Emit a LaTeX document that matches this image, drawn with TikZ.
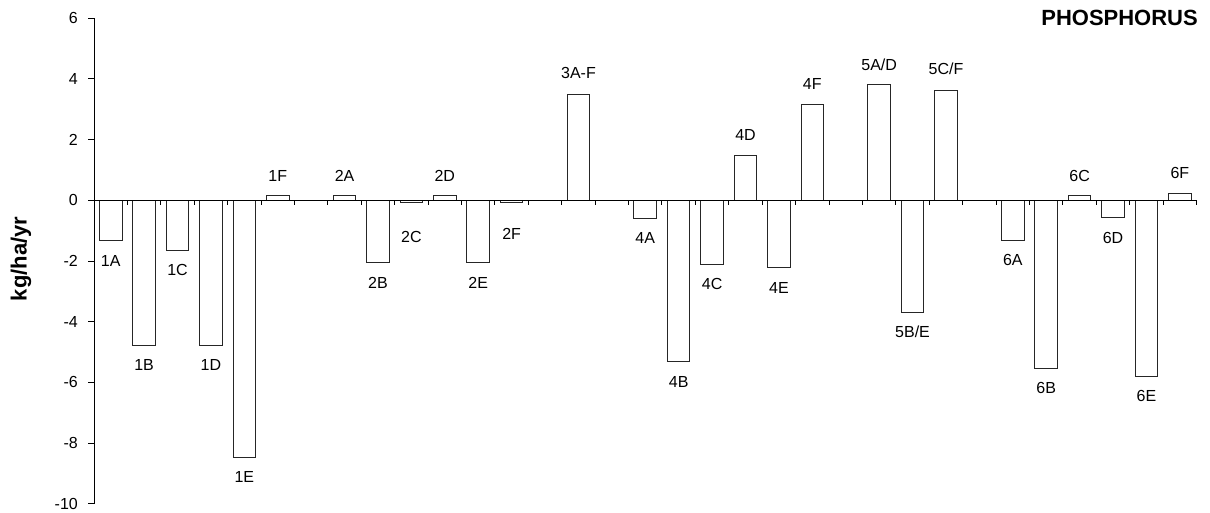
\documentclass[tikz,border=0pt]{standalone}
\usepackage{fontspec}
\setmainfont{Liberation Sans}
\tikzset{
  barbox/.style={draw=black!85, fill=white, line width=1pt},
  axisline/.style={draw=black, line width=1pt},
  lab/.style={font=\fontsize{16}{19}\selectfont, inner sep=0pt, anchor=center},
  ticklab/.style={font=\fontsize{16}{19}\selectfont, inner sep=0pt, anchor=east},
  ttl/.style={font=\bfseries\fontsize{22}{26}\selectfont, inner sep=0pt}
}
\def\xz{94}\def\cw{33.41}\def\yz{200.3}\def\ys{30.35}
\newcommand\pbar[4]{%
  \pgfmathsetmacro\xc{\xz+(#1-0.5)*\cw}%
  \pgfmathsetmacro\yt{\yz-\ys*(#2)}%
  \pgfmathsetmacro\yl{(#2)<0 ? \yt+#4 : \yt-#4}%
  \draw[barbox] (\xc-11.3,\yz) rectangle (\xc+11.3,\yt);
  \node[lab] (lab#1) at (\xc,\yl) {#3};
}
\begin{document}
\begin{tikzpicture}[x=1pt,y=-1pt]
\useasboundingbox (0,0) rectangle (1210,512);
% bars
\pbar{1}{-1.33}{1A}{20}
\pbar{2}{-4.78}{1B}{20}
\pbar{3}{-1.64}{1C}{20}
\pbar{4}{-4.78}{1D}{20}
\pbar{5}{-8.47}{1E}{20}
\pbar{6}{0.15}{1F}{20}
\pbar{8}{0.15}{2A}{20}
\pbar{9}{-2.06}{2B}{20}
\pbar{10}{-0.07}{2C}{35}
\pbar{11}{0.15}{2D}{20}
\pbar{12}{-2.06}{2E}{20}
\pbar{13}{-0.07}{2F}{31}
\pbar{15}{3.49}{3A-F}{21}
\pbar{17}{-0.59}{4A}{19.5}
\pbar{18}{-5.32}{4B}{20}
\pbar{19}{-2.10}{4C}{20}
\pbar{20}{1.48}{4D}{20}
\pbar{21}{-2.22}{4E}{20}
\pbar{22}{3.17}{4F}{20.5}
\pbar{24}{3.81}{5A/D}{19.7}
\pbar{25}{-3.69}{5B/E}{19.5}
\pbar{26}{3.63}{5C/F}{21}
\pbar{28}{-1.33}{6A}{19.5}
\pbar{29}{-5.53}{6B}{20}
\pbar{30}{0.15}{6C}{20}
\pbar{31}{-0.58}{6D}{19.7}
\pbar{32}{-5.79}{6E}{20}
\pbar{33}{0.23}{6F}{20}
% x axis
\coordinate (xa) at (\xz,\yz);
\coordinate (xb) at ({\xz+33*\cw},\yz);
\draw[axisline] (xa) -- (xb);
\foreach \k in {1,...,33}{
  \draw[axisline] ({\xz+\k*\cw},\yz) -- ({\xz+\k*\cw},\yz+5);
}
% y axis
\coordinate (ya) at (\xz,{\yz-6*\ys});
\coordinate (yb) at (\xz,{\yz+10*\ys});
\draw[axisline] (ya) -- (yb);
\foreach \v in {-10,-8,...,6}{
  \draw[axisline] (\xz-6,{\yz-\v*\ys}) -- (\xz,{\yz-\v*\ys});
  \node[ticklab] (t\v) at (78,{\yz-\v*\ys}) {\v};
}
% titles
\node[ttl, rotate=90] (ytitle) at (21,259) {kg/ha/yr};
\node[ttl, anchor=east] (title) at (1198,18.3) {PHOSPHORUS};
\end{tikzpicture}
\end{document}
